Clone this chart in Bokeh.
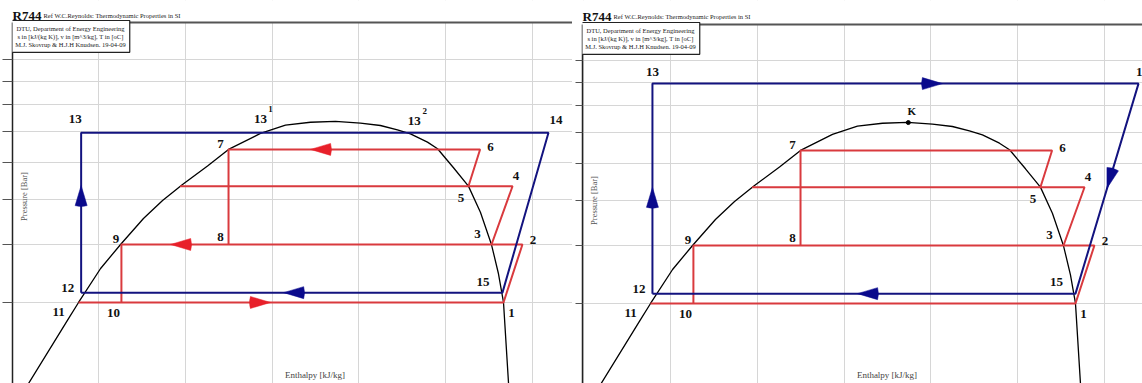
import math
from bokeh.plotting import figure
from bokeh.layouts import row
from bokeh.models import Range1d, FixedTicker, Label, Span, ColumnDataSource, BoxAnnotation
from bokeh.core.properties import value
from bokeh.embed import file_html
from bokeh.resources import INLINE

# ---------------- data (enthalpy kJ/kg, pressure bar) ----------------
h_ticks = [150, 200, 250, 300, 350, 400, 450, 500]
p_ticks = [20, 30, 40, 50, 60, 70, 80, 90, 100]

dome_h = [159.7, 182.1, 188.5, 201.2, 212.7, 225.9, 236.9, 248.4, 262.8, 274.9, 293.3,
          307.7, 322.1, 336.5, 350.9, 362.4, 372.2, 379.7, 389.5, 395.3, 404.5,
          413.1, 420.0, 426.4, 430.4, 433.3, 436.2]
dome_p = [20.07, 27.44, 30.0, 35.51, 40.0, 45.51, 49.76, 53.86, 59.06, 64.1, 69.39,
          72.35, 73.35, 73.64, 73.02, 72.18, 70.64, 69.25, 66.45, 64.32, 58.52,
          53.43, 46.95, 39.94, 34.59, 30.0, 20.07]

red_names = ["1", "2", "3", "4", "5", "6", "7", "8", "9", "10", "11", "5L"]
red_h = [433.3, 444.2, 426.4, 438.5, 413.1, 419.8, 274.9, 274.9, 213.2, 213.2, 188.5, 247.0]
red_p = [30.0, 40.0, 40.0, 53.4, 53.4, 64.1, 64.1, 40.0, 40.0, 30.0, 30.0, 53.4]

blue_names = ["12", "13", "14", "15"]
blueA_h = [190.0, 190.0, 459.2, 432.7]
blueA_p = [31.5, 69.6, 69.6, 31.5]
blueB_h = [189.6, 189.6, 469.6, 433.3]
blueB_p = [31.5, 89.3, 89.3, 31.5]

cross_names = ["1", "2"]
cross_h = [293.3, 380.8]
cross_p = [69.6, 69.6]

crit_h = [337.0]
crit_p = [73.6]

# arrows: tip position, colour, direction of the arrow body (deg)
arrA_h = [322.1, 241.5, 299.1, 190.0, 306.6]
arrA_p = [64.1, 40.0, 30.0, 53.6, 31.5]
arrA_c = ["red", "red", "red", "blue", "blue"]
arrA_dir = [0, 0, 180, 270, 0]
arrB_h = [356.7, 451.4, 307.7, 189.6]
arrB_p = [89.3, 53.1, 31.5, 53.4]
arrB_c = ["blue", "blue", "blue", "blue"]
arrB_dir = [180, 73.3, 0, 270]

# ---------------- style ----------------
RED = "#d93a3e"
RED_A = "#e8202a"
BLUE = "#13137f"
BLUE_A = "#0a0a8c"
SERIF = "Liberation Serif"
H = 383

red_off = {"1": (8, 11), "2": (10.5, -4.5), "3": (-14, -10), "4": (3.5, -10.5),
           "5": (-7.5, 11.5), "6": (10.5, -2), "7": (-8, -5.5), "8": (-8, -7.5),
           "9": (-5.5, -5), "10": (-8, 11), "11": (-20, 9.5)}
blueA_off = {"12": (-13.5, -5), "13": (-6, -14), "14": (7.5, -12.5), "15": (-19.5, -10.5)}
blueB_off = {"12": (-13.5, -5), "13": (0, -12), "14": (4, -12), "15": (-19, -12)}


def panel(width, bl, tick_out, xr, yr, ytop, title_base, box_top, plab_y, elab_x):
    p = figure(width=width, height=H, x_range=Range1d(*xr), y_range=Range1d(*yr),
               y_axis_type="log", output_backend="svg", toolbar_location=None,
               min_border_left=bl, min_border_right=0, min_border_top=0,
               min_border_bottom=0, background_fill_color="white",
               border_fill_color="white")
    p.xaxis.visible = False
    ax = p.yaxis[0]
    ax.ticker = FixedTicker(ticks=p_ticks)
    ax.major_label_overrides = {t: "" for t in p_ticks}
    ax.major_label_standoff = 0
    ax.major_tick_out = tick_out
    ax.major_tick_in = 0
    ax.minor_tick_line_color = None
    ax.major_tick_line_color = "#555"
    ax.axis_line_color = "#222"
    ax.axis_line_width = 1.5
    ax.bounds = (yr[0], ytop)
    p.xgrid.ticker = FixedTicker(ticks=h_ticks)
    p.ygrid.ticker = FixedTicker(ticks=p_ticks)
    for g in (p.xgrid, p.ygrid):
        g.grid_line_color = "#d6d6d6"
        g.grid_line_width = 1
    p.outline_line_color = None

    # saturation dome
    p.line(dome_h, dome_p, line_color="black", line_width=1.3)
    # red cycle
    idx = {n: i for i, n in enumerate(red_names)}
    for path in (["11", "1", "2", "9", "10"], ["3", "4", "5L"], ["5", "6", "7", "8"]):
        p.line([red_h[idx[n]] for n in path], [red_p[idx[n]] for n in path],
               line_color=RED, line_width=2)
    names = red_names[:11]
    p.text(x=red_h[:11], y=red_p[:11], text=names,
           x_offset=[red_off[n][0] for n in names], y_offset=[red_off[n][1] for n in names],
           text_font=value(SERIF), text_font_style="bold", text_font_size="13px",
           text_align="center", text_baseline="middle", text_color="#111")

    # area above the chart border (title strip)
    p.add_layout(BoxAnnotation(bottom=ytop, fill_color="white", fill_alpha=1,
                               line_color=None))
    p.add_layout(Span(location=ytop, dimension="width", line_color="#555", line_width=2))
    p.add_layout(Label(x=0, y=H - title_base, x_units="screen", y_units="screen",
                       text="R744", text_font=SERIF, text_font_size="13px",
                       text_font_style="bold", text_baseline="alphabetic",
                       text_color="#111"))
    p.add_layout(Label(x=31, y=H - title_base, x_units="screen", y_units="screen",
                       text="Ref W.C.Reynolds: Thermodynamic Properties in SI",
                       text_font=SERIF, text_font_size="6.5px",
                       text_baseline="alphabetic", text_color="#222"))
    p.add_layout(Label(x=58, y=H - box_top, x_units="screen", y_units="screen",
                       text="DTU, Department of Energy Engineering\n"
                            "s in [kJ/(kg K)], v in [m^3/kg], T in [oC]\n"
                            "M.J. Skovrup & H.J.H Knudsen. 19-04-09",
                       text_font=SERIF, text_font_size="6.5px", text_align="center",
                       text_baseline="top", text_color="#222", padding=4,
                       border_line_color="#222", border_line_width=1.2,
                       background_fill_color="white"))
    p.add_layout(Label(x=11, y=H - plab_y, x_units="screen", y_units="screen",
                       text="Pressure [Bar]", angle=90, angle_units="deg",
                       text_font=SERIF, text_font_size="8.5px", text_align="center",
                       text_baseline="middle", text_color="#555"))
    p.add_layout(Label(x=elab_x, y=4, x_units="screen", y_units="screen",
                       text="Enthalpy [kJ/kg]", text_font=SERIF, text_font_size="9px",
                       text_align="center", text_baseline="bottom", text_color="#444"))
    return p


def blue_cycle(p, bh, bp, off):
    p.line(bh + [bh[0]], bp + [bp[0]], line_color=BLUE, line_width=2)
    p.text(x=bh, y=bp, text=blue_names,
           x_offset=[off[n][0] for n in blue_names], y_offset=[off[n][1] for n in blue_names],
           text_font=value(SERIF), text_font_style="bold", text_font_size="13px",
           text_align="center", text_baseline="middle", text_color="#111")


def arrows(p, ah, ap, ac, ad):
    src = ColumnDataSource(dict(
        x=ah, y=ap,
        s=[math.radians(d) - 0.29 for d in ad], e=[math.radians(d) + 0.29 for d in ad],
        c=[RED_A if c == "red" else BLUE_A for c in ac]))
    p.wedge(x="x", y="y", radius=21, radius_units="screen", start_angle="s",
            end_angle="e", fill_color="c", line_color="c", line_width=0.5, source=src)


# left panel
p1 = panel(572, 12, 10, (150.46, 473.04), (20.07, 134.19), 120.31,
           15, 20, 196, 302.5)
blue_cycle(p1, blueA_h, blueA_p, blueA_off)
p1.text(x=cross_h, y=cross_p, text=["13", "13"], x_offset=[0, 2], y_offset=[-14, -12],
        text_font=value(SERIF), text_font_style="bold", text_font_size="13px",
        text_align="center", text_baseline="middle", text_color="#111")
p1.text(x=cross_h, y=cross_p, text=cross_names, x_offset=[10, 12.5], y_offset=[-23.5, -22],
        text_font=value(SERIF), text_font_style="bold", text_font_size="9px",
        text_align="center", text_baseline="middle", text_color="#111")
arrows(p1, arrA_h, arrA_p, arrA_c, arrA_dir)

# right panel
p2 = panel(570, 10, 7, (149.31, 471.9), (20.17, 134.86), 119.72,
           16, 22, 200, 304.5)
blue_cycle(p2, blueB_h, blueB_p, blueB_off)
p2.scatter(crit_h, crit_p, size=4, color="black")
p2.text(x=crit_h, y=crit_p, text=["K"], x_offset=[3.5], y_offset=[-12],
        text_font=value(SERIF), text_font_style="bold", text_font_size="11px",
        text_align="center", text_baseline="middle", text_color="#111")
arrows(p2, arrB_h, arrB_p, arrB_c, arrB_dir)

layout = row(p1, p2, spacing=0)
open("out.html", "w").write(file_html(layout, INLINE))
